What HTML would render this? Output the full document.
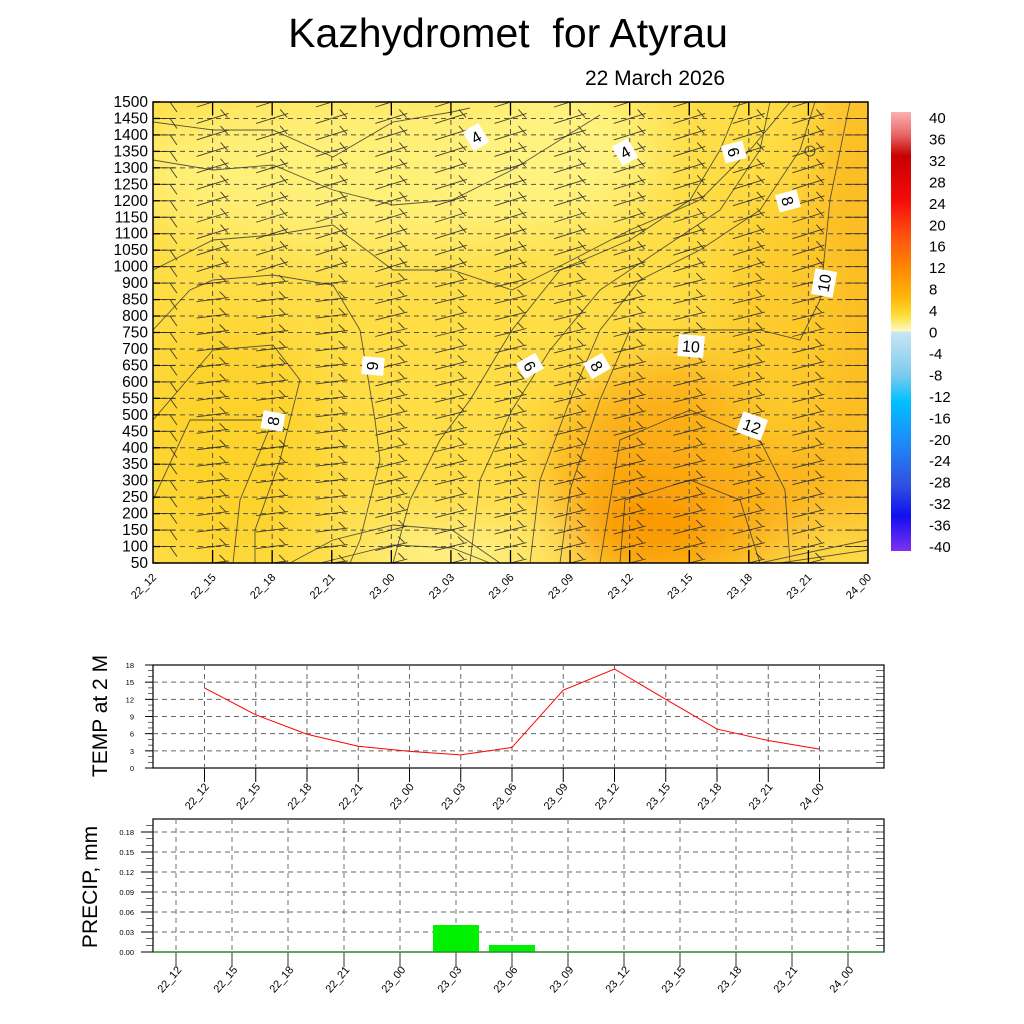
<!DOCTYPE html>
<html><head><meta charset="utf-8"><style>
html,body{margin:0;padding:0;background:#fff;}
svg{display:block;font-family:"Liberation Sans",sans-serif;}
</style></head><body>
<svg id="s" width="1024" height="1024" viewBox="0 0 1024 1024" xmlns="http://www.w3.org/2000/svg">
<defs>
<filter id="bl" x="-20%" y="-20%" width="140%" height="140%"><feGaussianBlur stdDeviation="28"/></filter>
<clipPath id="cp"><rect x="153" y="102" width="715" height="461"/></clipPath>
<linearGradient id="cb" x1="0" y1="0" x2="0" y2="1">
<stop offset="0" stop-color="#fdb0b0"/><stop offset="0.05" stop-color="#e86a6a"/><stop offset="0.1" stop-color="#c80000"/>
<stop offset="0.2" stop-color="#f50a0a"/><stop offset="0.28" stop-color="#ff5010"/><stop offset="0.36" stop-color="#ff8a00"/>
<stop offset="0.42" stop-color="#ffb40a"/><stop offset="0.46" stop-color="#ffda30"/><stop offset="0.5" stop-color="#fffbc8"/>
<stop offset="0.5" stop-color="#c9e6f4"/><stop offset="0.6" stop-color="#7ccaee"/><stop offset="0.66" stop-color="#00c0ff"/>
<stop offset="0.75" stop-color="#1e8cf8"/><stop offset="0.85" stop-color="#3050e0"/><stop offset="0.92" stop-color="#1010f0"/>
<stop offset="1" stop-color="#8030f0"/></linearGradient>
</defs>
<text x="508" y="47" font-size="41" text-anchor="middle" xml:space="preserve">Kazhydromet  for Atyrau</text>
<text x="655" y="85" font-size="21" text-anchor="middle">22 March 2026</text>
<g clip-path="url(#cp)">
<rect x="153" y="102" width="715" height="461" fill="#fedd45"/>
<g filter="url(#bl)">
<ellipse cx="380" cy="170" rx="260" ry="80" fill="#fff078"/>
<ellipse cx="560" cy="150" rx="100" ry="80" fill="#fff380"/>
<ellipse cx="230" cy="440" rx="90" ry="120" fill="#fdd22c"/>
<ellipse cx="690" cy="470" rx="140" ry="110" fill="#fbad12"/>
<ellipse cx="650" cy="530" rx="70" ry="50" fill="#f99606"/>
<ellipse cx="860" cy="300" rx="50" ry="260" fill="#fcba20"/>
<ellipse cx="780" cy="330" rx="60" ry="130" fill="#fdca2c"/>
<ellipse cx="450" cy="555" rx="100" ry="25" fill="#fff8a0"/>
<ellipse cx="830" cy="555" rx="50" ry="20" fill="#fee050"/>
</g>
<g id="grid" stroke="#555" stroke-width="1" stroke-dasharray="5,4" fill="none"></g>
<g fill="none" stroke="#333" stroke-width="0.9" opacity="0.8">
<polyline points="153,122 213,130 273,130 333,157 393,122 452,112 470,108"/>
<polyline points="153,160 213,170 273,165 333,190 393,205 452,200 512,170 560,140 600,115"/>
<polyline points="153,270 213,240 273,235 333,225 393,270 452,270 512,290 572,260 630,230 700,200 750,150 790,102"/>
<polyline points="153,330 190,290 213,280 273,275 333,285 360,330 375,420 380,460 360,540 350,563"/>
<polyline points="153,420 213,350 273,345 300,380 280,460 255,530 255,563"/>
<polyline points="153,500 190,420 213,420 273,420 240,500 233,563"/>
<polyline points="393,563 410,500 440,440 470,400 512,330 560,270 630,240 690,200 720,150 740,102"/>
<polyline points="470,563 480,480 512,410 550,350 600,290 660,250 720,210 760,150 770,102"/>
<polyline points="530,563 540,480 570,400 600,330 640,280 700,250 760,210 800,150 815,102"/>
<polyline points="560,563 570,490 600,400 630,330 690,330 760,330 800,340 820,300 830,200 850,102"/>
<polyline points="600,563 620,440 690,410 760,440 785,490 790,563"/>
<polyline points="620,563 625,500 690,480 740,500 760,563"/>
<polyline points="290,563 333,540 393,525 452,530 500,563"/>
<polyline points="320,563 393,545 452,548 490,563"/>
<polyline points="760,563 820,550 868,540"/>
<polyline points="780,563 868,550"/>
</g>
<g id="barbs" stroke="#222" stroke-width="0.9" fill="none" opacity="0.85"></g>
</g>
<rect x="153" y="102" width="715" height="461" fill="none" stroke="#000" stroke-width="1.5"/>
<g id="ax1" font-size="15.5" text-anchor="end"></g>
<g font-size="16" text-anchor="middle" fill="#000">
<g transform="translate(476,137) rotate(-30)"><rect x="-9" y="-11" width="18" height="22" fill="#fff"/><text y="6">4</text></g>
<g transform="translate(625,152) rotate(-30)"><rect x="-9" y="-11" width="18" height="22" fill="#fff"/><text y="6">4</text></g>
<g transform="translate(734,152) rotate(75)"><rect x="-9" y="-11" width="18" height="22" fill="#fff"/><text y="6">6</text></g>
<g transform="translate(788,201) rotate(75)"><rect x="-9" y="-11" width="18" height="22" fill="#fff"/><text y="6">8</text></g>
<g transform="translate(824,283) rotate(-80)"><rect x="-13" y="-11" width="26" height="22" fill="#fff"/><text y="6">10</text></g>
<g transform="translate(691,346) rotate(5)"><rect x="-13" y="-11" width="26" height="22" fill="#fff"/><text y="6">10</text></g>
<g transform="translate(752,426) rotate(20)"><rect x="-13" y="-11" width="26" height="22" fill="#fff"/><text y="6">12</text></g>
<g transform="translate(373,366) rotate(95)"><rect x="-9" y="-11" width="18" height="22" fill="#fff"/><text y="6">6</text></g>
<g transform="translate(530,366) rotate(60)"><rect x="-9" y="-11" width="18" height="22" fill="#fff"/><text y="6">6</text></g>
<g transform="translate(597,366) rotate(60)"><rect x="-9" y="-11" width="18" height="22" fill="#fff"/><text y="6">8</text></g>
<g transform="translate(273,421) rotate(-80)"><rect x="-9" y="-11" width="18" height="22" fill="#fff"/><text y="6">8</text></g>
</g>
<circle cx="810" cy="151" r="5" fill="none" stroke="#333" stroke-width="0.8"/>
<rect x="891" y="112" width="20" height="439" fill="url(#cb)"/>
<g id="cbl" font-size="15"></g>
<rect x="153" y="665" width="731" height="103" fill="#fff" stroke="#000" stroke-width="1.2"/>
<g id="tp"></g>
<text transform="translate(107,716) rotate(-90)" font-size="21" text-anchor="middle">TEMP at 2 M</text>
<rect x="153" y="819" width="731" height="133" fill="#fff" stroke="#000" stroke-width="1.2"/>
<g id="pp"></g>
<text transform="translate(97,887) rotate(-90)" font-size="21" text-anchor="middle">PRECIP, mm</text>
<rect x="433" y="925" width="46" height="27" fill="#00f000"/>
<rect x="489" y="945" width="46" height="7" fill="#00f000"/>
<line x1="153" y1="952" x2="884" y2="952" stroke="#2a8a2a" stroke-width="1.2"/>
</svg>
<script>
var NS="http://www.w3.org/2000/svg";
function el(p,t,a,txt){var e=document.createElementNS(NS,t);for(var k in a)e.setAttribute(k,a[k]);if(txt!=null)e.textContent=txt;p.appendChild(e);return e;}
var s=document.getElementById('s');
var labs=["22_12","22_15","22_18","22_21","23_00","23_03","23_06","23_09","23_12","23_15","23_18","23_21","24_00"];
var lv=[1500,1450,1400,1350,1300,1250,1200,1150,1100,1050,1000,900,850,800,750,700,650,600,550,500,450,400,350,300,250,200,150,100,50];
var g=document.getElementById('grid'),ax=document.getElementById('ax1'),b=document.getElementById('barbs');
var dy=461/28,dx=715/12;
for(var i=0;i<29;i++){var y=102+i*dy;
 if(i>0&&i<28)el(g,'line',{x1:153,y1:y,x2:868,y2:y});
 el(ax,'text',{x:148,y:y+5},lv[i]);
 el(s,'line',{x1:153,y1:y,x2:160,y2:y,stroke:'#000','stroke-width':1.3});
}
for(var j=0;j<13;j++){var x=153+j*dx;
 if(j>0&&j<12)el(g,'line',{x1:x,y1:102,x2:x,y2:563});
 if(j>0&&j<12){el(s,'line',{x1:x,y1:102,x2:x,y2:115,stroke:'#000','stroke-width':1.3});el(s,'line',{x1:x,y1:550,x2:x,y2:563,stroke:'#000','stroke-width':1.3});}
 el(s,'text',{transform:'translate('+(x+4)+',578) rotate(-45)','font-size':11,'text-anchor':'end'},labs[j]);
 for(var i=0;i<29;i++){var y=102+i*dy;var L=16,d;
  if(j==0){el(b,'line',{x1:153,y1:y,x2:175,y2:y});el(b,'line',{x1:170,y1:y,x2:177,y2:y+10});continue;}
  if(j==12){el(b,'line',{x1:845,y1:y,x2:868,y2:y});continue;}
  d=(i<11)?5:4; if(j<=3&&i>=11)d=2;
  el(b,'line',{x1:x-L,y1:y+d,x2:x+L,y2:y-d});
  if(i<11)el(b,'line',{x1:x+L-8,y1:y-d-4,x2:x+L-1,y2:y-d+4});
  else el(b,'line',{x1:x+L-3,y1:y-d,x2:x+L-9,y2:y-d-6});
 }
}
var cb=document.getElementById('cbl');
for(var k=0;k<21;k++){el(cb,'text',{x:929,y:123+k*21.45},40-4*k);}
var tp=document.getElementById('tp');
var tv=[14,9.3,5.9,3.8,2.9,2.3,3.6,13.6,17.3,12,6.8,4.8,3.3];
var ty=function(v){return 768-v*103/18;};
for(var v=3;v<=15;v+=3)el(tp,'line',{x1:153,y1:ty(v),x2:884,y2:ty(v),stroke:'#666','stroke-dasharray':'5,4'});
for(var v=0;v<=18;v+=3){el(tp,'text',{x:134,y:ty(v)+3,'font-size':7.5,'text-anchor':'end'},v);el(tp,'line',{x1:145,y1:ty(v),x2:153,y2:ty(v),stroke:'#000'});}
for(var v=0;v<=18;v+=1){el(tp,'line',{x1:148,y1:ty(v),x2:153,y2:ty(v),stroke:'#000','stroke-width':0.6});el(tp,'line',{x1:876,y1:ty(v),x2:884,y2:ty(v),stroke:'#000','stroke-width':0.6});}
var pts=[];
for(var j=0;j<13;j++){var x=204.5+j*51.25;pts.push(x+','+ty(tv[j]));
 el(tp,'line',{x1:x,y1:665,x2:x,y2:768,stroke:'#666','stroke-dasharray':'5,4'});
 el(tp,'line',{x1:x,y1:768,x2:x,y2:782,stroke:'#000','stroke-width':1});
 el(tp,'text',{transform:'translate('+(x+5)+',787) rotate(-50)','font-size':11,'text-anchor':'end'},labs[j]);}
el(tp,'polyline',{points:pts.join(' '),fill:'none',stroke:'#f00','stroke-width':1});
var pp=document.getElementById('pp');
var py=function(v){return 952-v*120/0.18;};
for(var k=1;k<=6;k++){var v=k*0.03;el(pp,'line',{x1:153,y1:py(v),x2:884,y2:py(v),stroke:'#666','stroke-dasharray':'5,4'});}
for(var k=0;k<=6;k++){var v=k*0.03;el(pp,'text',{x:134,y:py(v)+3,'font-size':7.5,'text-anchor':'end'},v.toFixed(2));el(pp,'line',{x1:141,y1:py(v),x2:153,y2:py(v),stroke:'#000'});}
for(var k=0;k<=19;k++){var y=py(k*0.01);el(pp,'line',{x1:146,y1:y,x2:153,y2:y,stroke:'#000','stroke-width':0.6});el(pp,'line',{x1:876,y1:y,x2:884,y2:y,stroke:'#000','stroke-width':0.6});}
for(var j=0;j<13;j++){var x=176+j*56;
 el(pp,'line',{x1:x,y1:819,x2:x,y2:952,stroke:'#888','stroke-dasharray':'5,4','stroke-width':1.2});
 el(pp,'line',{x1:x,y1:952,x2:x,y2:967,stroke:'#555','stroke-width':1.2});
 el(pp,'text',{transform:'translate('+(x+6)+',970) rotate(-50)','font-size':11,'text-anchor':'end'},labs[j]);}
</script>
</body></html>
